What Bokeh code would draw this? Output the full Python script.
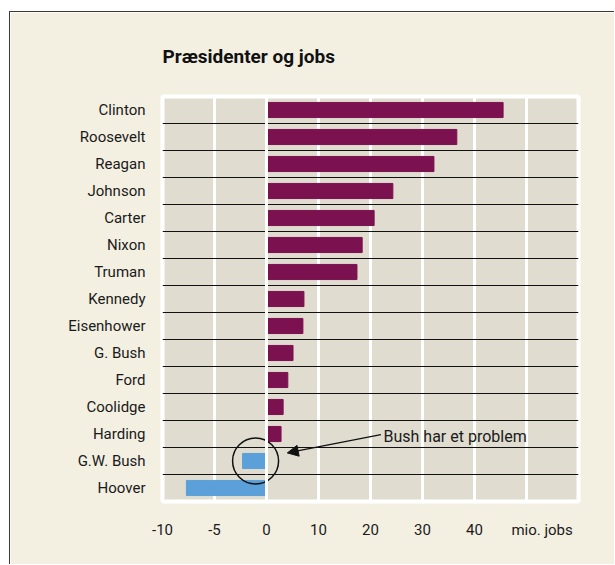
from bokeh.plotting import figure
from bokeh.models import FixedTicker, Span, Label, Arrow, NormalHead, ColumnDataSource, Range1d
from bokeh.embed import file_html
from bokeh.resources import INLINE

# ---- data (mio. jobs) ----
presidents = ["Clinton", "Roosevelt", "Reagan", "Johnson", "Carter", "Nixon", "Truman",
              "Kennedy", "Eisenhower", "G. Bush", "Ford", "Coolidge", "Harding",
              "G.W. Bush", "Hoover"]
jobs = [45.5, 36.6, 32.2, 24.3, 20.7, 18.4, 17.4, 7.2, 7.0, 5.1, 4.1, 3.2, 2.8, -2.3, -7.7]
tick_values = [-10, -5, 0, 10, 20, 30, 40]
title_text = "Præsidenter og jobs"
unit_text = "mio. jobs"
note_text = "Bush har et problem"

PURPLE = "#7c1150"
BLUE = "#5ba0d9"
FONT = "Roboto"

# negative side of the axis is drawn at double scale (as in the original)
def to_axis(v):
    return v * 2 if v < 0 else v

n = len(presidents)
ypos = [n - 1 - i for i in range(n)]
xdisp = [to_axis(v) for v in jobs]
colors = [PURPLE if v >= 0 else BLUE for v in jobs]

src = ColumnDataSource(dict(y=ypos, right=xdisp, color=colors, name=presidents))

p = figure(width=605, height=553, output_backend="svg", toolbar_location=None,
           x_range=Range1d(-20, 60), y_range=Range1d(-0.5, n - 0.5),
           min_border_left=152, min_border_right=37, min_border_top=84, min_border_bottom=64)
p.styles = {"margin-left": "9px", "margin-top": "11px",
            "border-left": "1px solid #3a3a3a", "border-top": "1px solid #3a3a3a"}

p.background_fill_color = "#e0ddd0"
p.border_fill_color = "#f3f0e2"
p.outline_line_color = "white"
p.outline_line_width = 4

p.hbar(y="y", left=0, right="right", height=0.56, color="color", source=src)

# grids
p.xgrid.ticker = FixedTicker(ticks=[-10, 10, 20, 30, 40, 50])
p.xgrid.grid_line_color = "white"
p.xgrid.grid_line_width = 3
p.ygrid.ticker = FixedTicker(ticks=[i + 0.5 for i in range(n - 1)])
p.ygrid.grid_line_color = "#111111"
p.ygrid.grid_line_width = 1.2

p.add_layout(Span(location=0, dimension="height", line_color="white", line_width=3))

# x axis
xticks = [to_axis(v) for v in tick_values] + [53]
p.xaxis.ticker = FixedTicker(ticks=xticks)
overrides = {to_axis(v): str(v) for v in tick_values}
overrides[53] = unit_text
p.xaxis.major_label_overrides = overrides
# y axis
p.yaxis.ticker = FixedTicker(ticks=ypos)
p.yaxis.major_label_overrides = {y: name for y, name in zip(ypos, presidents)}

for ax in (p.xaxis[0], p.yaxis[0]):
    ax.axis_line_color = None
    ax.major_tick_line_color = None
    ax.minor_tick_line_color = None
    ax.major_tick_out = 0
    ax.major_tick_in = 0
    ax.minor_tick_out = 0
    ax.major_label_text_font = FONT
    ax.major_label_text_font_size = "15px"
    ax.major_label_text_color = "#1a1a1a"
p.xaxis.major_label_standoff = 19
p.yaxis.major_label_standoff = 17

# title
p.title.text = title_text
p.title.text_font = FONT
p.title.text_font_size = "19px"
p.title.text_font_style = "bold"
p.title.text_color = "#111111"
p.title.standoff = 57

# annotation
p.scatter(x=[-2.1], y=[1.0], marker="circle", size=46, fill_color=None,
          line_color="#111111", line_width=1.5)
p.add_layout(Arrow(x_start=22.0, y_start=1.98, x_end=4.0, y_end=1.3,
                   line_color="#111111", line_width=1.3,
                   end=NormalHead(size=11, fill_color="#111111", line_color="#111111")))
p.add_layout(Label(x=22.5, y=1.92, text=note_text, text_font=FONT, text_font_size="16px",
                   text_baseline="middle", text_align="left", text_color="#1a1a1a"))

open("out.html", "w").write(file_html(p, INLINE))
